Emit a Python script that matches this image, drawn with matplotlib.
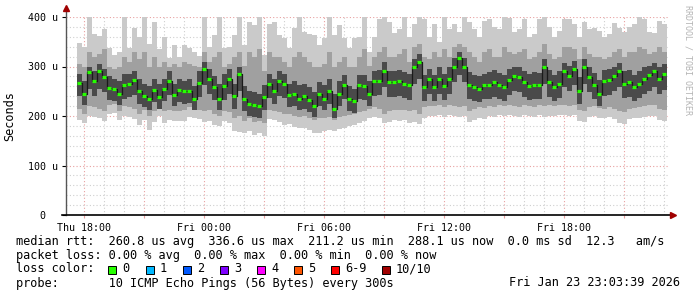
import matplotlib
matplotlib.use('Agg')
import matplotlib.pyplot as plt
import matplotlib.dates as mdates
import matplotlib.ticker as mticker
import pandas as pd

# 15 minute samples, Thu 17:45 .. Fri 23:00 (microseconds)
times = pd.date_range('2026-01-22 17:45', periods=118, freq='15min')

median = [267, 245, 288, 270, 290, 278, 257, 255, 245, 262, 265, 272, 250, 240, 235, 252, 238, 255,
          270, 243, 252, 250, 250, 235, 267, 295, 275, 258, 235, 260, 275, 240, 284, 235, 225, 222, 220, 238,
          265, 250, 270, 265, 242, 245, 235, 240, 233, 220, 245, 235, 250, 215, 245, 262, 235, 230, 262, 260,
          245, 270, 270, 290, 268, 268, 270, 265, 262, 300, 310, 258, 275, 258, 275, 260, 275, 300, 318, 300,
          263, 258, 255, 262, 262, 268, 262, 258, 272, 280, 278, 268, 260, 262, 262, 300, 268, 258, 265, 290,
          280, 295, 250, 300, 278, 262, 245, 270, 272, 280, 290, 265, 268, 258, 265, 275, 282, 290, 275, 285]

ping_max = [347, 340, 400, 365, 362, 375, 338, 323, 330, 400, 337, 377, 360, 400, 345, 390, 335, 360,
            317, 343, 320, 343, 337, 330, 322, 400, 340, 363, 400, 337, 340, 363, 400, 343, 390, 384, 400, 323,
            385, 390, 363, 357, 337, 377, 400, 370, 365, 363, 343, 357, 400, 363, 384, 357, 337, 357, 360, 400,
            330, 360, 395, 400, 390, 367, 375, 400, 360, 385, 400, 395, 360, 385, 350, 400, 375, 385, 370, 400,
            390, 375, 360, 392, 395, 380, 375, 400, 398, 370, 375, 395, 360, 365, 395, 400, 380, 360, 372, 395,
            395, 385, 360, 390, 375, 378, 372, 360, 365, 388, 378, 370, 380, 385, 400, 395, 370, 368, 392, 385]

ping_hi = [305, 300, 330, 320, 325, 335, 300, 295, 300, 320, 310, 330, 315, 330, 300, 320, 300, 310,
           300, 305, 300, 310, 305, 300, 300, 330, 310, 320, 330, 300, 305, 320, 330, 300, 330, 320, 335, 290,
           330, 320, 320, 310, 300, 320, 330, 320, 310, 300, 300, 305, 330, 300, 310, 320, 300, 300, 320, 335,
           300, 320, 330, 340, 320, 320, 325, 335, 310, 340, 345, 320, 315, 330, 320, 335, 320, 340, 345, 340,
           330, 320, 310, 330, 335, 320, 320, 340, 330, 325, 330, 335, 315, 320, 330, 345, 325, 315, 320, 340,
           340, 335, 315, 340, 325, 320, 320, 315, 320, 330, 335, 320, 330, 330, 340, 335, 325, 330, 340, 330]

core_hi = [285, 270, 300, 290, 305, 295, 280, 275, 270, 285, 285, 290, 275, 265, 260, 275, 265, 275,
           290, 265, 275, 270, 275, 260, 290, 310, 295, 280, 265, 285, 295, 265, 300, 260, 250, 248, 245, 262,
           285, 275, 290, 285, 265, 270, 262, 265, 258, 248, 268, 262, 275, 245, 270, 282, 260, 255, 282, 282,
           270, 290, 292, 310, 290, 290, 292, 288, 285, 315, 325, 282, 295, 282, 298, 285, 298, 318, 330, 318,
           288, 282, 280, 285, 288, 292, 286, 282, 295, 300, 298, 290, 285, 288, 286, 315, 292, 282, 290, 308,
           302, 312, 278, 315, 298, 286, 272, 292, 295, 300, 308, 290, 292, 282, 290, 298, 302, 308, 298, 305]

core_lo = [240, 222, 255, 240, 255, 248, 232, 230, 222, 235, 238, 242, 225, 218, 212, 228, 215, 230,
           242, 220, 228, 225, 226, 212, 238, 262, 245, 232, 212, 232, 245, 215, 250, 210, 200, 198, 196, 212,
           236, 225, 240, 236, 218, 220, 212, 215, 208, 198, 220, 212, 225, 195, 220, 235, 210, 206, 235, 232,
           220, 240, 242, 258, 238, 238, 240, 236, 232, 265, 275, 230, 245, 230, 245, 232, 245, 268, 282, 268,
           235, 230, 228, 234, 234, 238, 234, 230, 242, 250, 248, 238, 232, 234, 234, 265, 238, 230, 236, 258,
           250, 262, 225, 265, 248, 234, 220, 240, 242, 250, 258, 236, 238, 230, 236, 245, 250, 258, 245, 252]

ping_lo = [215, 205, 220, 218, 215, 210, 222, 225, 210, 220, 218, 215, 205, 212, 200, 210, 220, 210,
           212, 210, 210, 212, 218, 215, 212, 210, 212, 205, 200, 210, 208, 195, 200, 190, 195, 188, 190, 185,
           212, 210, 208, 205, 205, 200, 198, 200, 195, 192, 195, 195, 198, 192, 198, 200, 202, 205, 208, 210,
           215, 218, 215, 205, 210, 212, 212, 212, 210, 212, 205, 218, 220, 220, 222, 218, 222, 220, 218, 220,
           210, 215, 218, 216, 220, 218, 222, 220, 222, 220, 218, 222, 220, 218, 222, 220, 222, 220, 222, 222,
           220, 222, 212, 210, 218, 220, 216, 215, 218, 215, 210, 208, 215, 216, 218, 220, 222, 222, 215, 212]

ping_min = [192, 185, 200, 198, 196, 189, 204, 207, 191, 200, 198, 193, 182, 192, 172, 188, 200, 185,
            192, 190, 189, 190, 198, 195, 193, 188, 190, 182, 180, 189, 185, 170, 168, 165, 170, 162, 165, 160,
            193, 192, 188, 182, 183, 178, 175, 176, 172, 166, 165, 170, 172, 170, 173, 175, 180, 182, 186, 189,
            196, 198, 195, 185, 188, 192, 190, 192, 185, 187, 183, 196, 200, 201, 202, 198, 203, 200, 198, 200,
            188, 192, 196, 194, 200, 198, 202, 200, 203, 201, 198, 202, 200, 197, 203, 198, 201, 200, 203, 202,
            200, 203, 190, 188, 198, 200, 196, 195, 197, 193, 186, 184, 193, 195, 196, 198, 200, 201, 192, 190]

loss_labels = ['0', '1', '2', '3', '4', '5', '6-9', '10/10']
loss_colors = ['#26ff00', '#00b8ff', '#0059ff', '#7e00ff', '#ff00ff', '#ff5500', '#ff0000', '#a10000']

W, H = 697, 297
MONO = 'DejaVu Sans Mono'
FS = 8.55

fig = plt.figure(figsize=(W / 100, H / 100), dpi=100)
ax = fig.add_axes([66 / W, (H - 215) / H, 603 / W, 198 / H])

x = mdates.date2num(times.to_pydatetime())
step = 15 / 1440.0

# smoke layers
for lo, hi, col in [(ping_min, ping_max, '#cacaca'),
                    (ping_lo, ping_hi, '#a0a0a0'),
                    (core_lo, core_hi, '#4a4a4a')]:
    ax.bar(x, [h - l for h, l in zip(hi, lo)], bottom=lo, width=step,
           color=col, linewidth=0, antialiased=False, zorder=2)

# median: dark connectors + green segments
ax.step(x, median, where='mid', color='#1a1a1a', lw=0.9, zorder=3)
ax.hlines(median, x - step * 0.35, x + step * 0.35, color=loss_colors[0], lw=2.3, zorder=4)

ax.set_xlim(mdates.date2num(pd.Timestamp('2026-01-22 17:06').to_pydatetime()),
            mdates.date2num(pd.Timestamp('2026-01-23 23:15').to_pydatetime()))
ax.set_ylim(0, 400)

# grid
ax.xaxis.set_major_locator(mdates.HourLocator(byhour=range(0, 24, 3)))
ax.xaxis.set_minor_locator(mdates.HourLocator())
ax.yaxis.set_major_locator(mticker.MultipleLocator(100))
ax.yaxis.set_minor_locator(mticker.MultipleLocator(20))


def xfmt(v, pos):
    d = mdates.num2date(v)
    if d.hour % 6 == 0:
        return d.strftime('%a %H:%M')
    return ''


def yfmt(v, pos):
    return '%d u' % v if v > 0 else '0  '


ax.xaxis.set_major_formatter(mticker.FuncFormatter(xfmt))
ax.yaxis.set_major_formatter(mticker.FuncFormatter(yfmt))

ax.grid(which='minor', color='#cfcfcf', linestyle=(0, (1, 2)), lw=0.8, zorder=1)
ax.grid(which='major', color='#e8a0a0', linestyle=(0, (1, 2)), lw=0.8, zorder=1)
ax.set_axisbelow(True)

ax.tick_params(axis='x', which='major', length=2, color='#e8a0a0', pad=4,
               labelsize=7.2)
ax.tick_params(axis='x', which='minor', length=0)
ax.tick_params(axis='y', which='major', length=3, pad=3, labelsize=7.2)
ax.tick_params(axis='y', which='minor', length=0)
for lab in ax.get_xticklabels() + ax.get_yticklabels():
    lab.set_family(MONO)

for s in ['top', 'right', 'left', 'bottom']:
    ax.spines[s].set_visible(False)

# axis lines with arrows
ax.plot([0, 0], [0, 1.03], transform=ax.transAxes, color='#555555', lw=1, clip_on=False, zorder=5)
ax.plot([-0.006, 1.004], [0, 0], transform=ax.transAxes, color='black', lw=1.2, clip_on=False, zorder=5)
ax.plot([0], [1.045], transform=ax.transAxes, marker='^', color='#a00000', ms=4, clip_on=False, zorder=6)
ax.plot([1.006], [0], transform=ax.transAxes, marker='>', color='#a00000', ms=4, clip_on=False, zorder=6)

fig.text(10 / W, 1 - 116 / H, 'Seconds', rotation=90, family=MONO, fontsize=FS,
         ha='center', va='center')
fig.text(688 / W, 1 - 5 / H, 'RRDTOOL / TOBI OETIKER', rotation=270, family=MONO,
         fontsize=6, color='#b4b4b4', ha='center', va='top')

# legend text block
def line(y, s):
    fig.text(16 / W, 1 - y / H, s, family=MONO, fontsize=FS, ha='left', va='center')


line(241.5, 'median rtt:  260.8 us avg  336.6 us max  211.2 us min  288.1 us now  0.0 ms sd  12.3   am/s')
line(255, 'packet loss: 0.00 % avg  0.00 % max  0.00 % min  0.00 % now')
line(269, 'loss color:')
line(283, 'probe:       10 ICMP Echo Pings (56 Bytes) every 300s')
fig.text(680 / W, 1 - 283 / H, 'Fri Jan 23 23:03:39 2026', family=MONO, fontsize=FS,
         ha='right', va='center')

box_left = [108, 146, 183, 220, 257, 294, 331, 382]
for bx, lab, col in zip(box_left, loss_labels, loss_colors):
    fig.patches.append(plt.Rectangle((bx / W, 1 - 273.5 / H), 8 / W, 8 / H,
                                     transform=fig.transFigure, facecolor=col,
                                     edgecolor='black', lw=0.7))
    fig.text((bx + 14) / W, 1 - 269 / H, lab, family=MONO, fontsize=FS,
             ha='left', va='center')

fig.savefig('out.png', dpi=100)
